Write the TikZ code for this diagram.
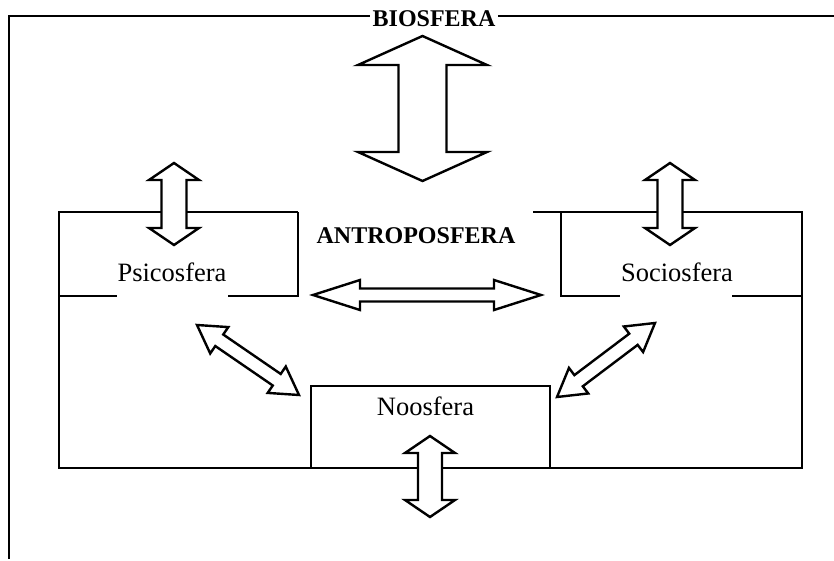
\documentclass[tikz,border=0pt]{standalone}
\usepackage{fontspec}
\setmainfont{Liberation Serif}
\usepackage{tikz}
\usetikzlibrary{calc, positioning}

% block double arrow: from, to, half shaft, half head, head length
\newcommand{\dblarrow}[5]{%
  \draw[barrow] let \p1=(#1), \p2=(#2),
      \n1={atan2(\y2-\y1,\x2-\x1)}, \n2={veclen(\x2-\x1,\y2-\y1)} in
    (\p1) -- ($(\p1)+(\n1:#5)+(\n1+90:#4)$) -- ($(\p1)+(\n1:#5)+(\n1+90:#3)$)
    -- ($(\p1)+(\n1:\n2-#5)+(\n1+90:#3)$) -- ($(\p1)+(\n1:\n2-#5)+(\n1+90:#4)$)
    -- (\p2)
    -- ($(\p1)+(\n1:\n2-#5)+(\n1-90:#4)$) -- ($(\p1)+(\n1:\n2-#5)+(\n1-90:#3)$)
    -- ($(\p1)+(\n1:#5)+(\n1-90:#3)$) -- ($(\p1)+(\n1:#5)+(\n1-90:#4)$) -- cycle;
}

\begin{document}
\begin{tikzpicture}[
    x=1pt, y=1pt,
    frame/.style  = {line width=1.8pt},
    barrow/.style = {line width=2.4pt, fill=white, line join=miter},
    sphere/.style = {font=\fontsize{26.5}{30}\selectfont, anchor=base, inner sep=0pt},
    title/.style  = {font=\fontsize{24}{28}\selectfont\bfseries, anchor=base, inner sep=3pt}
]
    \useasboundingbox (0,0) rectangle (834,-561);

    % biosfera
    \draw[frame] (834,-16) -- (9,-16) -- (9,-559);
    \node[title, fill=white] (bio) at (434,-27) {BIOSFERA};

    % antroposfera
    \draw[frame] (298,-212) -- (59,-212) -- (59,-468) -- (802,-468) -- (802,-212) -- (533,-212);
    \node[title] (antro) at (416,-243) {ANTROPOSFERA};

    \draw[frame] (59,-296) -- (117,-296);
    \draw[frame] (228,-296) -- (298,-296) -- (298,-212);
    \node[sphere] (psico) at (172,-281) {Psicosfera};

    \draw[frame] (561,-212) -- (561,-296) -- (620,-296);
    \draw[frame] (732,-296) -- (802,-296);
    \node[sphere] (socio) at (677,-281) {Sociosfera};

    \node[draw, frame, minimum width=239, minimum height=82] (noosbox) at (430.5,-427) {};
    \node[sphere] (noos) at (425.5,-415) {Noosfera};

    % arrow ends
    \coordinate (bioA) at (422.5,-36);
    \coordinate (bioB) at (422.5,-181);
    \coordinate (psiA) at (174,-163);
    \coordinate (psiB) at (174,-245);
    \coordinate (socA) at (670,-163);
    \coordinate (socB) at (670,-245);
    \coordinate (horA) at (313,-295);
    \coordinate (horB) at (541,-295);
    \coordinate (psnA) at (197,-325);
    \coordinate (psnB) at (299,-395);
    \coordinate (sonA) at (655,-323);
    \coordinate (sonB) at (557,-397);
    \coordinate (nooA) at (430,-436);
    \coordinate (nooB) at (430,-517);

    \dblarrow{bioA}{bioB}{24}{64.5}{29}
    \dblarrow{psiA}{psiB}{12.5}{25}{17}
    \dblarrow{socA}{socB}{12.5}{25}{17}
    \dblarrow{horA}{horB}{6.5}{15}{47}
    \dblarrow{psnA}{psnB}{7}{16}{27}
    \dblarrow{sonA}{sonB}{7}{16}{27}
    \dblarrow{nooA}{nooB}{12}{25}{17}
\end{tikzpicture}
\end{document}
